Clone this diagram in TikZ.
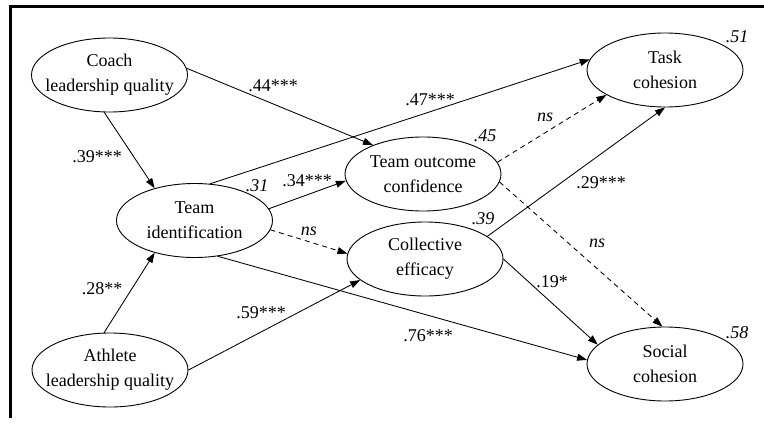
\documentclass[tikz,border=0pt]{standalone}
\usepackage{fontspec}
\setmainfont{Liberation Serif}
\usetikzlibrary{shapes.geometric,arrows.meta}
\begin{document}
\begin{tikzpicture}[x=1pt,y=-1pt,
  txt/.style={font=\fontsize{18}{25}\selectfont,align=center,inner sep=0pt},
  construct/.style={ellipse,draw,line width=0.9pt,minimum width=156pt,
    minimum height=74pt,inner sep=0pt},
  coef/.style={txt},
  rsq/.style={txt,font=\fontsize{18}{25}\selectfont\itshape},
  path/.style={line width=0.85pt,-{Triangle[length=10pt,width=7pt]}},
  nspath/.style={path,dash pattern=on 5pt off 4pt}]
\useasboundingbox (0,0) rectangle (764,426);
% frame
\draw[line width=3pt] (10,418) -- (10,6.7) -- (764,6.7);

% constructs
\node[construct,label={[txt]center:{Coach\\leadership quality}}] (coach) at (109.5,75) {};
\node[construct,label={[txt]center:{Athlete\\leadership quality}}] (athlete) at (110,370) {};
\node[construct,label={[txt]center:{Team\\identification}}] (teamid) at (194.5,220.5) {};
\node[construct,label={[txt]center:{Team outcome\\confidence}}] (outcome) at (423,174) {};
\node[construct,label={[txt]center:{Collective\\efficacy}}] (collective) at (425,259) {};
\node[construct,label={[txt]center:{Task\\cohesion}}] (task) at (665,70) {};
\node[construct,label={[txt]center:{Social\\cohesion}}] (social) at (665,364) {};

% paths
\draw[path] (coach.262) -- (teamid.141);
\draw[path] (coach.5) -- (outcome.150);
\draw[path] (teamid.67) -- (task.172);
\draw[path] (teamid.9) -- (outcome.185);
\draw[nspath] (teamid.353) -- (collective.176);
\draw[path] (teamid.303) -- (social.177);
\draw[path] (athlete.99) -- (teamid.219);
\draw[path] (athlete.0) -- (collective.198);
\draw[nspath] (outcome.9) -- (task.203);
\draw[nspath] (outcome.354) -- (social.94);
\draw[path] (collective.20) -- (task.270);
\draw[path] (collective.0) -- (social.164);

% path coefficients
\node[coef] (c39) at (97,157) {.39***};
\node[coef] (c28) at (102,289) {.28**};
\node[coef] (c44) at (273,86) {.44***};
\node[coef] (c47) at (430,100) {.47***};
\node[coef] (c34) at (307,181) {.34***};
\node[rsq] (cns1) at (309,231) {ns};
\node[coef] (c59) at (261,313) {.59***};
\node[coef] (c76) at (428,336) {.76***};
\node[rsq] (cns2) at (545,117) {ns};
\node[coef] (c29) at (601,183) {.29***};
\node[rsq] (cns3) at (597,243) {ns};
\node[coef] (c19) at (552,282) {.19*};

% explained variance
\node[rsq] (r31) at (257,186) {.31};
\node[rsq] (r45) at (485,136) {.45};
\node[rsq] (r39) at (483,219) {.39};
\node[rsq] (r51) at (737,37) {.51};
\node[rsq] (r58) at (737,333) {.58};
\end{tikzpicture}
\end{document}
